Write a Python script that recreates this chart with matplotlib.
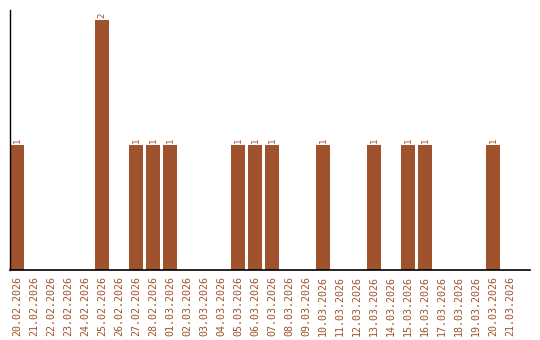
import matplotlib
matplotlib.use("Agg")
import matplotlib.pyplot as plt

dates = ["20.02.2026", "21.02.2026", "22.02.2026", "23.02.2026", "24.02.2026",
         "25.02.2026", "26.02.2026", "27.02.2026", "28.02.2026", "01.03.2026",
         "02.03.2026", "03.03.2026", "04.03.2026", "05.03.2026", "06.03.2026",
         "07.03.2026", "08.03.2026", "09.03.2026", "10.03.2026", "11.03.2026",
         "12.03.2026", "13.03.2026", "14.03.2026", "15.03.2026", "16.03.2026",
         "17.03.2026", "18.03.2026", "19.03.2026", "20.03.2026", "21.03.2026"]
counts = [1, 0, 0, 0, 0, 2, 0, 1, 1, 1, 0, 0, 0, 1, 1, 1, 0, 0, 1, 0,
          0, 1, 0, 1, 1, 0, 0, 0, 1, 0]

color = "#A0522D"
fig = plt.figure(figsize=(5.4, 3.4), dpi=100)
ax = fig.add_axes([10/540, 70/340, 520/540, 260/340])
x = list(range(len(dates)))
bars = ax.bar(x, counts, width=14/17, color=color)
for xi, c in zip(x, counts):
    if c > 0:
        ax.text(xi, c + 0.015, str(c), rotation=90, ha="center", va="bottom",
                color=color, fontsize=6.5, family="DejaVu Sans Mono")
ax.set_xlim(-7/17, (530 - 17) / 17)
ax.set_ylim(0, 2.08)
ax.set_xticks(x)
ax.set_xticklabels(dates, rotation=90, color=color, fontsize=7.2, family="DejaVu Sans Mono")
ax.tick_params(axis="x", length=0, pad=4)
ax.set_yticks([])
for s in ["top", "right"]:
    ax.spines[s].set_visible(False)
ax.spines["left"].set_linewidth(1)
ax.spines["bottom"].set_linewidth(1.2)
fig.savefig("out.png", dpi=100)
